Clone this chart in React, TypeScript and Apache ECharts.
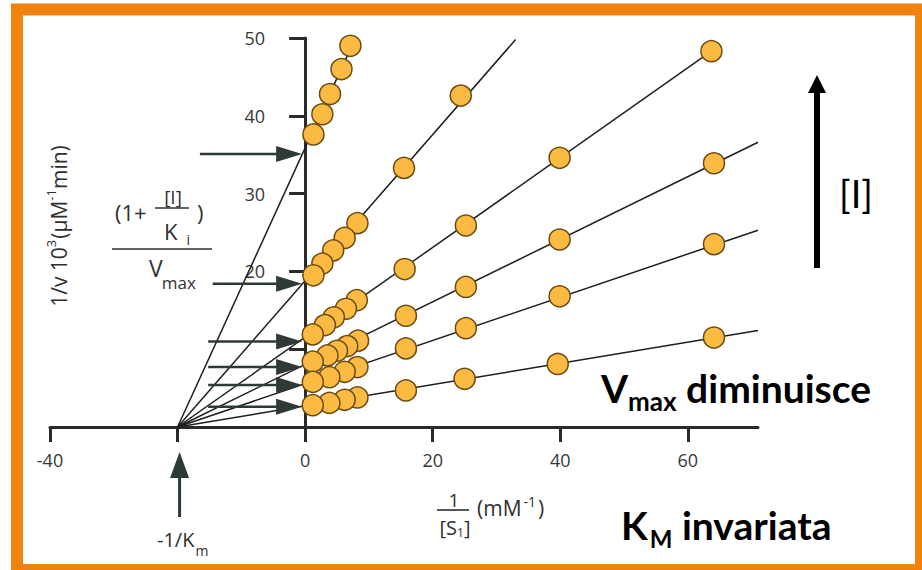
import React, { useEffect, useRef } from "react";
import * as echarts from "echarts";

// ---- axis ticks / labels ----
const xTickValues = [-40, -20, 0, 20, 40, 60];
const xLabelValues = [-40, 0, 20, 40, 60];
const yTickValues = [10, 20, 30, 40, 50];
const yLabelValues = [20, 30, 40, 50];

// ---- measured points (1/[S], 1/v) for each inhibitor concentration ----
const s1x = [7.1, 5.7, 3.9, 2.7, 1.3];
const s1y = [49.0, 46.0, 42.8, 40.2, 37.6];
const s2x = [24.4, 15.5, 8.2, 6.2, 4.4, 2.7, 1.3];
const s2y = [42.6, 33.3, 26.2, 24.3, 22.7, 21.0, 19.5];
const s3x = [63.7, 39.9, 25.2, 15.6, 8.1, 6.4, 4.5, 3.1, 1.2];
const s3y = [48.3, 34.6, 25.9, 20.3, 16.3, 15.2, 14.1, 13.1, 11.9];
const s4x = [64.1, 39.9, 25.2, 15.8, 8.3, 6.6, 5.0, 3.5, 1.2];
const s4y = [33.9, 24.1, 18.0, 14.3, 11.1, 10.4, 9.8, 9.2, 8.4];
const s5x = [64.1, 39.9, 25.2, 15.8, 8.2, 6.2, 3.8, 1.2];
const s5y = [23.5, 16.8, 12.7, 10.1, 7.7, 7.1, 6.4, 5.8];
const s6x = [64.1, 39.6, 25.0, 15.8, 8.2, 6.2, 3.8, 1.2];
const s6y = [11.5, 8.1, 6.2, 4.7, 3.8, 3.5, 3.1, 2.8];

// ---- fitted lines: common x-intercept (-1/Km) and end point of each line ----
const commonPoint: [number, number] = [-20, 0];
const lineEndX = [7.1, 33.0, 63.7, 71, 71, 71];
const lineEndY = [48.6, 49.8, 48.3, 36.6, 25.3, 12.4];

// ---- annotation arrows to the y-intercepts (1+[I]/Ki)/Vmax ----
const arrowLevels = [35.1, 18.4, 11.0, 7.7, 5.4, 2.6];
const arrowStartX = [-16.5, -14.5, -15.2, -15.2, -15.2, -15.2];

const FAM = "Open Sans";
const BOLDFAM = "Lato";
const INK = "#2f2f2f";
const LABEL = "#383838";
const ARROW = "#2d3a36";

const measureCtx = document.createElement("canvas").getContext("2d")!;
function tw(t: string, fs: number, fam: string, fw = "normal") {
  measureCtx.font = `${fw} ${fs}px "${fam}"`;
  return measureCtx.measureText(t).width;
}

type Part = { t: string; fs: number; dy?: number; dx?: number; fw?: string };
function runs(x0: number, y: number, parts: Part[], fam: string, color: string, center = false) {
  const widths = parts.map((p) => tw(p.t, p.fs, fam, p.fw || "normal"));
  const total = widths.reduce((a, b, i) => a + b + (parts[i].dx || 0), 0);
  let x = center ? x0 - total / 2 : x0;
  return parts.map((p, i) => {
    x += p.dx || 0;
    const el = {
      type: "text",
      x,
      y: y + (p.dy || 0),
      style: {
        text: p.t,
        fontSize: p.fs,
        fontFamily: fam,
        fontWeight: p.fw || "normal",
        fill: color,
        align: "left",
        textAlign: "left",
        verticalAlign: "middle",
        textVerticalAlign: "middle",
      },
    };
    x += widths[i];
    return el;
  });
}

function hline(x1: number, x2: number, y: number, w = 1.6, color = INK) {
  return { type: "line", shape: { x1, y1: y, x2, y2: y }, style: { stroke: color, lineWidth: w } };
}

const GRID_LEFT = 50;

export default function App() {
  const ref = useRef<HTMLDivElement>(null);
  useEffect(() => {
    document.body.style.margin = "0";
    const chart = echarts.init(ref.current!, null, { renderer: "svg" });
    const pts = [
      [s1x, s1y],
      [s2x, s2y],
      [s3x, s3y],
      [s4x, s4y],
      [s5x, s5y],
      [s6x, s6y],
    ];
    const lineSeries = lineEndX.map((ex, i) => ({
      type: "line",
      data: [commonPoint, [ex, lineEndY[i]]],
      showSymbol: false,
      symbol: "none",
      lineStyle: { color: "#1e1e1e", width: 1.5 },
      z: 2,
      silent: true,
    }));
    const scatterSeries = pts.map(([xs, ys]) => ({
      type: "scatter",
      data: xs.map((x, i) => [x, ys[i]]),
      symbolSize: 21,
      itemStyle: { color: "#FBBB42", borderColor: "#6b4a12", borderWidth: 1.5, opacity: 1 },
      z: 3,
      silent: true,
    }));
    chart.setOption({
      animation: false,
      backgroundColor: "#ffffff",
      grid: { left: GRID_LEFT, right: 164, top: 38, bottom: 143, containLabel: false, outerBoundsMode: "none" },
      xAxis: {
        type: "value",
        min: -40,
        max: 71,
        interval: 20,
        splitLine: { show: false },
        axisLine: { onZero: true, lineStyle: { color: "#2a2a2a", width: 3 } },
        axisTick: { show: true, length: 15, customValues: xTickValues, lineStyle: { color: "#2a2a2a", width: 3 } },
        axisLabel: { customValues: xLabelValues, margin: 24, fontSize: 18, color: LABEL, fontFamily: FAM },
      },
      yAxis: {
        type: "value",
        min: 0,
        max: 50,
        interval: 10,
        splitLine: { show: false },
        axisLine: { show: true, onZero: false, lineStyle: { color: "#2a2a2a", width: 3 } },
        axisTick: { show: true, length: 16, customValues: yTickValues, lineStyle: { color: "#2a2a2a", width: 3 } },
        axisLabel: { customValues: yLabelValues, margin: 40, fontSize: 18, color: LABEL, fontFamily: FAM },
      },
      series: [...lineSeries, ...scatterSeries],
    });

    const px = (x: number, y: number) => chart.convertToPixel({ gridIndex: 0 }, [x, y]) as number[];
    // place the y axis on x = 0
    const zero = px(0, 0);
    chart.setOption({ yAxis: { offset: -(zero[0] - GRID_LEFT) } });

    const g: any[] = [];

    // orange frame
    g.push({
      type: "rect",
      shape: { x: 17, y: 9.5, width: 904, height: 560.5 },
      style: { fill: "none", stroke: "#F0820F", lineWidth: 12 },
      z: 10,
    });

    // arrows toward the y-intercepts
    arrowLevels.forEach((lv, i) => {
      const end = px(0, lv);
      const start = px(arrowStartX[i], lv);
      const tip = end[0] - 3;
      g.push({ type: "line", shape: { x1: start[0], y1: end[1], x2: tip - 20, y2: end[1] }, style: { stroke: ARROW, lineWidth: 2.5 }, z: 5 });
      g.push({
        type: "polygon",
        shape: { points: [[tip - 26, end[1] - 8], [tip, end[1]], [tip - 26, end[1] + 8]] },
        style: { fill: ARROW },
        z: 5,
      });
    });

    // -1/Km arrow
    const km = px(commonPoint[0], commonPoint[1]);
    g.push({ type: "line", shape: { x1: km[0] + 2, y1: 517, x2: km[0] + 2, y2: 472 }, style: { stroke: ARROW, lineWidth: 3 }, z: 5 });
    g.push({ type: "polygon", shape: { points: [[km[0] - 7.5, 478], [km[0] + 2, 452], [km[0] + 11.5, 478]] }, style: { fill: ARROW }, z: 5 });
    g.push(...runs(157, 539, [{ t: "-1/K", fs: 20 }, { t: "m", fs: 14, dy: 11, dx: 1 }], FAM, INK));

    // y-axis title (rotated)
    g.push({
      type: "group",
      x: 59,
      y: 226,
      rotation: Math.PI / 2,
      children: runs(
        0,
        0,
        [
          { t: "1/v 10", fs: 21 },
          { t: "3", fs: 13, dy: -8 },
          { t: "(μM", fs: 21, dx: 1 },
          { t: "-1", fs: 13, dy: -8 },
          { t: "min)", fs: 21 },
        ],
        FAM,
        INK,
        true
      ),
    });

    // (1 + [I]/Ki) / Vmax
    g.push(...runs(115, 212, [{ t: "(1+", fs: 22 }], FAM, INK));
    g.push(...runs(173, 197, [{ t: "[I]", fs: 19 }], FAM, INK, true));
    g.push(hline(155, 189, 208));
    g.push(...runs(164, 231, [{ t: "K", fs: 22 }, { t: "i", fs: 14, dy: 8, dx: 9 }], FAM, INK));
    g.push(...runs(197, 212, [{ t: ")", fs: 22 }], FAM, INK));
    g.push(hline(112, 212, 249));
    g.push(...runs(149, 268, [{ t: "V", fs: 23 }, { t: "max", fs: 17, dy: 14, dx: -1 }], FAM, INK));

    // x-axis title 1/[S1] (mM-1)
    g.push(...runs(454, 500, [{ t: "1", fs: 19 }], FAM, INK, true));
    g.push(hline(437, 469, 510));
    g.push(...runs(455, 527, [{ t: "[S", fs: 20 }, { t: "1", fs: 12, dy: 5 }, { t: "]", fs: 20 }], FAM, INK, true));
    g.push(...runs(477, 508, [{ t: "(mM", fs: 21 }, { t: "-1", fs: 14, dy: -7, dx: 2 }, { t: ")", fs: 21, dx: 2 }], FAM, INK));

    // [I] arrow
    g.push({ type: "line", shape: { x1: 817, y1: 268, x2: 817, y2: 88 }, style: { stroke: "#000", lineWidth: 6 }, z: 5 });
    g.push({ type: "polygon", shape: { points: [[808, 93], [817, 75], [826, 93]] }, style: { fill: "#000" }, z: 5 });
    g.push(...runs(839, 193, [{ t: "[I]", fs: 38 }], BOLDFAM, "#000"));

    // bold statements
    g.push(
      ...runs(
        601,
        388,
        [
          { t: "V", fs: 39, fw: "bold" },
          { t: "max", fs: 26, fw: "bold", dy: 13 },
          { t: " diminuisce", fs: 39, fw: "bold" },
        ],
        BOLDFAM,
        "#000"
      )
    );
    g.push(
      ...runs(
        621,
        525,
        [
          { t: "K", fs: 39, fw: "bold" },
          { t: "M", fs: 24, fw: "bold", dy: 13, dx: 2 },
          { t: " invariata", fs: 39, fw: "bold" },
        ],
        BOLDFAM,
        "#000"
      )
    );

    chart.setOption({ graphic: { elements: g } });
    return () => chart.dispose();
  }, []);
  return <div ref={ref} style={{ width: 922, height: 570 }} />;
}
